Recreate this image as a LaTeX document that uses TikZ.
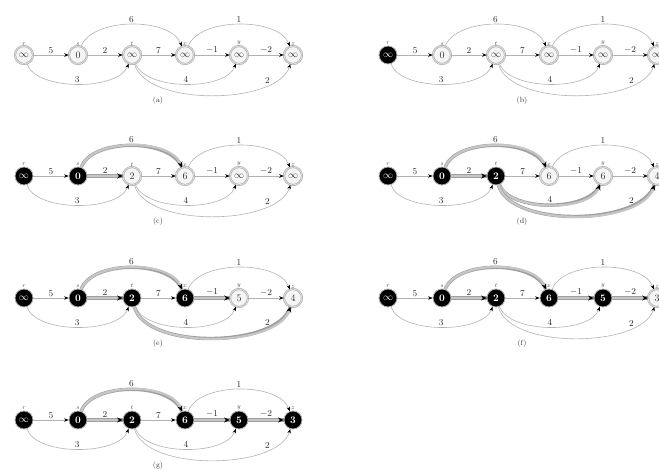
\documentclass[tikz,border=0pt]{standalone}
\usetikzlibrary{arrows.meta}
\tikzset{
 vtx/.style={circle, minimum size=18pt, inner sep=0pt, font=\fontsize{10}{10}\selectfont},
 wht/.style={vtx, draw=gray!70, line width=0.5pt, double=gray!30, double distance=1pt, fill=gray!8, text=black!80},
 blk/.style={vtx, draw=gray!60, line width=0.8pt, fill=black, text=white, font=\fontsize{10}{10}\selectfont\bfseries},
 nm/.style={font=\fontsize{6.5}{6.5}\selectfont, text=black!70, inner sep=0.5pt},
 el/.style={font=\fontsize{9}{9}\selectfont, inner sep=1.2pt, text=black!85},
 plainedge/.style={draw=gray!60, line width=0.6pt, -{Stealth[length=4.5pt,width=3.5pt,black]}},
 hledge/.style={draw=gray!45, line width=2.2pt,
   preaction={draw=gray!75, line width=3.4pt, arrows=-},
   -{Stealth[length=5.5pt,width=5pt,black]}},
 captxt/.style={font=\fontsize{7.5}{7.5}\selectfont, text=black!80}
}
\newcommand\vx[4]{\node[#3, label={[nm,name=\pid-n#1]above:$#1$}] (\pid-#1) at (#2,0) {#4};}
% args: st, sx, ty, tz, xy, yz
\newcommand\alledges[6]{%
 \draw[plainedge] (\pid-r) -- node[el,above] (\pid-l1) {5} (\pid-s);
 \draw[#1] (\pid-s) -- node[el,above] (\pid-l2) {2} (\pid-t);
 \draw[plainedge] (\pid-t) -- node[el,above] (\pid-l3) {7} (\pid-x);
 \draw[#5] (\pid-x) -- node[el,above] (\pid-l4) {$-1$} (\pid-y);
 \draw[#6] (\pid-y) -- node[el,above] (\pid-l5) {$-2$} (\pid-z);
 \draw[#2] (\pid-s) .. controls (92,-38) and (171,-38) .. node[el,above] (\pid-l6) {6} (\pid-x);
 \draw[plainedge] (\pid-x) .. controls (199,-38) and (279,-38) .. node[el,above] (\pid-l7) {1} (\pid-z);
 \draw[plainedge] (\pid-r) .. controls (36,36) and (118,36) .. node[el,above] (\pid-l8) {3} (\pid-t);
 \draw[#3] (\pid-t) .. controls (146,36) and (226,36) .. node[el,above] (\pid-l9) {4} (\pid-y);
 \draw[#4] (\pid-t) .. controls (146,52) and (278,50) .. node[el,above,pos=0.78] (\pid-l10) {2} (\pid-z);
}
\begin{document}
\begin{tikzpicture}[x=1pt,y=-1pt]
\useasboundingbox (0,0) rectangle (659,470);
% (a)
\def\pid{a}
\begin{scope}[shift={(0,55)}]
 \vx{r}{24}{wht}{$\infty$}\vx{s}{78}{wht}{0}\vx{t}{132}{wht}{$\infty$}
 \vx{x}{185}{wht}{$\infty$}\vx{y}{239}{wht}{$\infty$}\vx{z}{293}{wht}{$\infty$}
 \alledges{plainedge}{plainedge}{plainedge}{plainedge}{plainedge}{plainedge}
 \node[captxt] (a-cap) at (158,46) {(a)};
\end{scope}
% (b)
\def\pid{b}
\begin{scope}[shift={(364,55)}]
 \vx{r}{24}{blk}{$\infty$}\vx{s}{78}{wht}{0}\vx{t}{132}{wht}{$\infty$}
 \vx{x}{185}{wht}{$\infty$}\vx{y}{239}{wht}{$\infty$}\vx{z}{293}{wht}{$\infty$}
 \alledges{plainedge}{plainedge}{plainedge}{plainedge}{plainedge}{plainedge}
 \node[captxt] (b-cap) at (158,46) {(b)};
\end{scope}
% (c)
\def\pid{c}
\begin{scope}[shift={(0,176)}]
 \vx{r}{24}{blk}{$\infty$}\vx{s}{78}{blk}{0}\vx{t}{132}{wht}{2}
 \vx{x}{185}{wht}{6}\vx{y}{239}{wht}{$\infty$}\vx{z}{293}{wht}{$\infty$}
 \alledges{hledge}{hledge}{plainedge}{plainedge}{plainedge}{plainedge}
 \node[captxt] (c-cap) at (158,46) {(c)};
\end{scope}
% (d)
\def\pid{d}
\begin{scope}[shift={(364,176)}]
 \vx{r}{24}{blk}{$\infty$}\vx{s}{78}{blk}{0}\vx{t}{132}{blk}{2}
 \vx{x}{185}{wht}{6}\vx{y}{239}{wht}{6}\vx{z}{293}{wht}{4}
 \alledges{hledge}{hledge}{hledge}{hledge}{plainedge}{plainedge}
 \node[captxt] (d-cap) at (158,46) {(d)};
\end{scope}
% (e)
\def\pid{e}
\begin{scope}[shift={(0,298)}]
 \vx{r}{24}{blk}{$\infty$}\vx{s}{78}{blk}{0}\vx{t}{132}{blk}{2}
 \vx{x}{185}{blk}{6}\vx{y}{239}{wht}{5}\vx{z}{293}{wht}{4}
 \alledges{hledge}{hledge}{plainedge}{hledge}{hledge}{plainedge}
 \node[captxt] (e-cap) at (158,46) {(e)};
\end{scope}
% (f)
\def\pid{f}
\begin{scope}[shift={(364,298)}]
 \vx{r}{24}{blk}{$\infty$}\vx{s}{78}{blk}{0}\vx{t}{132}{blk}{2}
 \vx{x}{185}{blk}{6}\vx{y}{239}{blk}{5}\vx{z}{293}{wht}{3}
 \alledges{hledge}{hledge}{plainedge}{plainedge}{hledge}{hledge}
 \node[captxt] (f-cap) at (158,46) {(f)};
\end{scope}
% (g)
\def\pid{g}
\begin{scope}[shift={(0,420)}]
 \vx{r}{24}{blk}{$\infty$}\vx{s}{78}{blk}{0}\vx{t}{132}{blk}{2}
 \vx{x}{185}{blk}{6}\vx{y}{239}{blk}{5}\vx{z}{293}{blk}{3}
 \alledges{hledge}{hledge}{plainedge}{plainedge}{hledge}{hledge}
 \node[captxt] (g-cap) at (158,46) {(g)};
\end{scope}
\end{tikzpicture}
\end{document}
